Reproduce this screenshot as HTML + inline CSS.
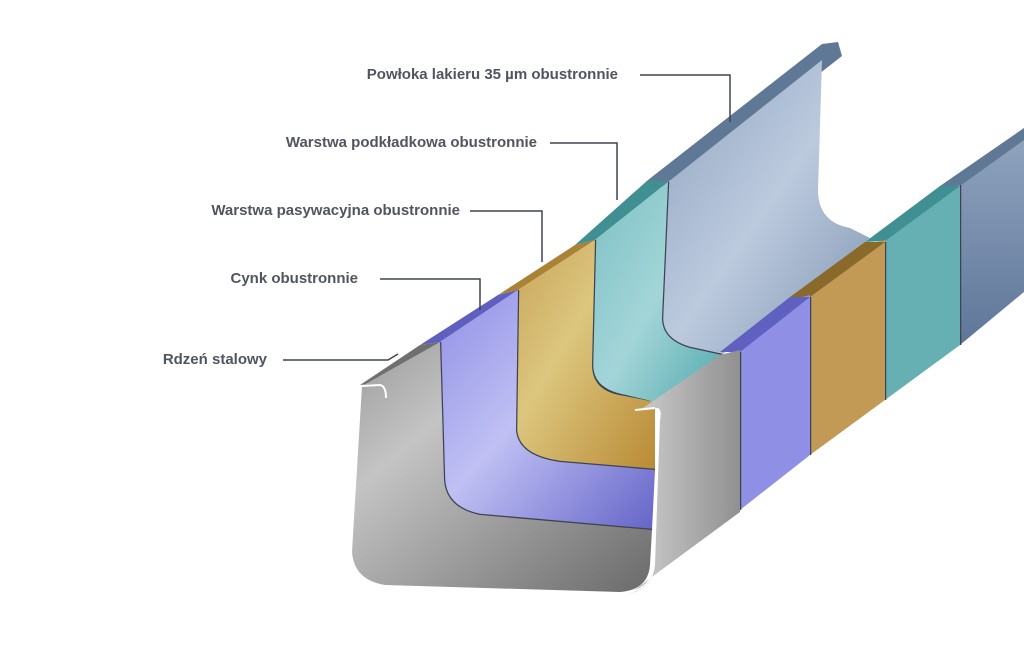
<!DOCTYPE html>
<html><head><meta charset="utf-8"><style>
html,body{margin:0;padding:0;background:#fff;}
svg{display:block}
text{font-family:"Liberation Sans",sans-serif;font-weight:bold;font-size:15px;fill:#50555f;}
</style></head><body>
<svg width="1024" height="656" viewBox="0 0 1024 656" xmlns="http://www.w3.org/2000/svg">
<defs>
<linearGradient id="gB" x1="0" y1="0" x2="1" y2="1"><stop offset="0" stop-color="#8ea3bf"/><stop offset=".5" stop-color="#bccade"/><stop offset="1" stop-color="#7f94b0"/></linearGradient>
<linearGradient id="gBr" x1="0" y1="0" x2="0" y2="1"><stop offset="0" stop-color="#8fa3be"/><stop offset="1" stop-color="#5f7699"/></linearGradient>
<linearGradient id="gT" x1="0" y1="0" x2="1" y2="1"><stop offset="0" stop-color="#7cc0c4"/><stop offset=".5" stop-color="#a3d5d8"/><stop offset="1" stop-color="#4fa7ab"/></linearGradient>
<linearGradient id="gO" x1="0" y1="0" x2="1" y2="1"><stop offset="0" stop-color="#c8a45a"/><stop offset=".4" stop-color="#dcc67e"/><stop offset="1" stop-color="#b98a35"/></linearGradient>
<linearGradient id="gP" x1="0" y1="0" x2="1" y2="1"><stop offset="0" stop-color="#8f8fe6"/><stop offset=".45" stop-color="#c0c0f4"/><stop offset="1" stop-color="#6464c8"/></linearGradient>
<linearGradient id="gG" x1="0" y1="0" x2="1" y2="1"><stop offset="0" stop-color="#9a9a9a"/><stop offset=".3" stop-color="#c4c4c4"/><stop offset="1" stop-color="#6a6a6a"/></linearGradient>
<linearGradient id="gGr" x1="0" y1="0" x2="1" y2="0"><stop offset="0" stop-color="#d0d0d0"/><stop offset="1" stop-color="#909090"/></linearGradient>
</defs>
<g stroke="#3d4450" stroke-width="2.5" stroke-linejoin="round">
<!-- blue -->
<polygon points="648,180 822,44 838,42 842,56 670,190" fill="#5f7896" stroke="none"/>
<path d="M668,182 L822,60 L818,190 Q818,222 850,228 L870,238 L722,355 L690,348 Q662,340 662,318 Z" fill="url(#gB)" stroke="none"/>
<path d="M668,182 L662,318 Q662,340 690,348 L722,355" fill="none"/>
<polygon points="940,190 960,183 1024,138 1024,292 960,345" fill="url(#gBr)" stroke="none"/>
<polygon points="940,186 1024,128 1024,140 960,186" fill="#5f7896" stroke="none"/>
<line x1="960" y1="185" x2="960" y2="345"/>
<!-- teal -->
<polygon points="575,245 648,180 668,182 595,240" fill="#3f8f93" stroke="none"/>
<path d="M595,240 L668,182 L662,318 Q662,340 690,348 L722,355 L640,410 L620,398 Q592,392 592,365 Z" fill="url(#gT)" stroke="none"/>
<path d="M595,240 L592,365 Q592,390 625,396 L650,402" fill="none"/>
<polygon points="865,245 885,240 940,190 960,185 960,345 885,400" fill="#66b0b4" stroke="none"/>
<polygon points="865,242 940,186 960,186 885,241" fill="#3f8f93" stroke="none"/>
<line x1="885" y1="242" x2="885" y2="400"/>
<!-- orange -->
<polygon points="498,295 575,245 595,240 518,290" fill="#a98236" stroke="none"/>
<path d="M518,290 L595,240 L592,365 Q592,392 625,396 L655,402 L655,470 L560,462 Q518,456 516,430 Z" fill="url(#gO)" stroke="none"/>
<path d="M518,290 L516,430 Q518,456 560,462 L655,470" fill="none"/>
<polygon points="790,300 810,295 865,245 885,240 885,400 810,455" fill="#c39a55" stroke="none"/>
<polygon points="790,297 865,242 885,242 810,297" fill="#8a6a2a" stroke="none"/>
<line x1="810" y1="297" x2="810" y2="455"/>
<!-- purple -->
<polygon points="420,345 498,295 518,290 440,342" fill="#5f5fbf" stroke="none"/>
<path d="M440,342 L518,290 L516,430 Q518,456 560,462 L655,470 L652,530 L480,515 Q446,508 444,480 Z" fill="url(#gP)" stroke="none"/>
<path d="M440,342 L444,480 Q446,508 480,515 L652,530" fill="none"/>
<polygon points="720,355 740,350 790,300 810,295 810,455 740,510" fill="#8f8fe6" stroke="none"/>
<polygon points="720,352 790,297 810,297 740,352" fill="#6060c0" stroke="none"/>
<line x1="740" y1="352" x2="740" y2="510"/>
<!-- gray -->
<polygon points="360,385 420,345 440,342 380,383" fill="#6f6f6f" stroke="none"/>
<path d="M362,386 L440,342 L444,480 Q446,508 480,515 L652,530 L650,565 Q648,590 620,592 L385,585 Q354,580 352,552 Z" fill="url(#gG)" stroke="none"/>
<path d="M362,386 L380,385 Q386,386 386,398" fill="none" stroke="#fff" stroke-width="2"/>
<path d="M640,410 L658,408 Q662,410 660,420 L655,565 Q652,590 630,593 L740,512 L740,350 L720,355 Z" fill="url(#gGr)" stroke="none"/>
<path d="M635,410 L655,408" fill="none" stroke="#fff" stroke-width="2"/>
<path d="M658,410 L654,565 Q652,588 630,592" fill="none" stroke="#fff" stroke-width="1.5"/>
</g>
<!-- labels -->
<g stroke="#3d4450" stroke-width="1.5" fill="none">
<polyline points="640,75 730,75 730,122"/>
<polyline points="550,143 617,143 617,200"/>
<polyline points="470,211 542,211 542,262"/>
<polyline points="380,279 480,279 480,310"/>
<polyline points="283,360 388,360 398,354"/>
</g>
<text x="618" y="79" text-anchor="end">Powłoka lakieru 35 µm obustronnie</text>
<text x="537" y="147" text-anchor="end">Warstwa podkładkowa obustronnie</text>
<text x="460" y="215" text-anchor="end">Warstwa pasywacyjna obustronnie</text>
<text x="358" y="283" text-anchor="end">Cynk obustronnie</text>
<text x="267" y="364" text-anchor="end">Rdzeń stalowy</text>
</svg>
</body></html>
